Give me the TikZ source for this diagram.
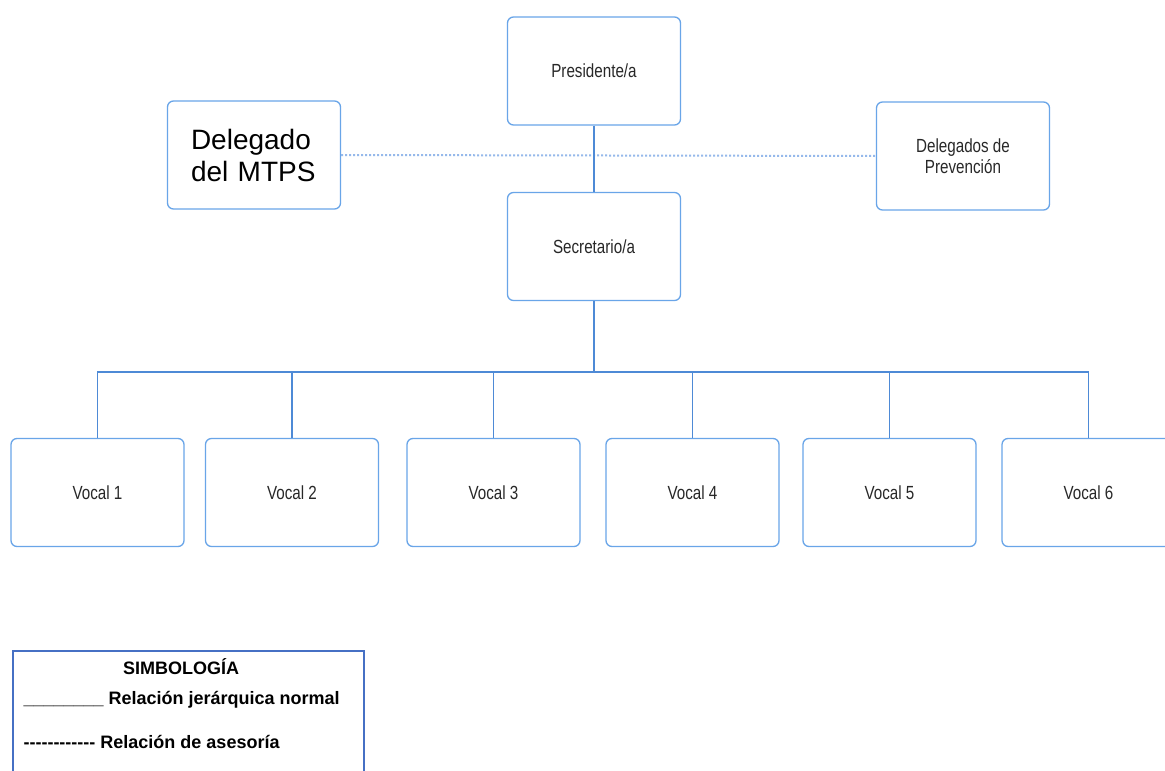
\documentclass[tikz,border=0pt]{standalone}
\usepackage{fontspec}
\setmainfont{Liberation Sans}
\newfontfamily\narrowfont[FakeStretch=0.8]{Liberation Sans}
\usetikzlibrary{positioning}
\definecolor{boxblue}{RGB}{105,165,232}
\definecolor{lineblue}{RGB}{78,138,214}
\definecolor{dotblue}{RGB}{150,185,235}
\definecolor{legblue}{RGB}{70,112,196}
\definecolor{txtgray}{RGB}{40,40,40}

\begin{document}
\begin{tikzpicture}[x=1pt,y=-1pt,
    cargo/.style={draw=boxblue, line width=1.3pt, rounded corners=6pt,
        minimum width=173pt, minimum height=108pt, inner sep=0pt,
        text=txtgray, font=\narrowfont\fontsize{19}{21}\selectfont, align=center},
    jerarquia/.style={draw=lineblue, line width=1.2pt},
    asesoria/.style={draw=dotblue, line width=2pt, dotted}]
    \useasboundingbox (0,0) rectangle (1165,771);
    \fill[white] (0,0) rectangle (1165,771);
    % cargos
    \node [cargo] (pres) at (594,71) {Presidente/a};
    \node [cargo] (sec) at (594,246.5) {Secretario/a};
    \node [cargo, text=black, text width=126pt, align=left, font=\fontsize{28}{32}\selectfont] (mtps) at (254,155) {Delegado\\del MTPS};
    \node [cargo] (prev) at (963,156) {Delegados de\\Prevención};
    \foreach \i/\x in {1/97.5,2/292,3/493.5,4/692.5,5/889.5,6/1088.5} {
        \node [cargo] (v\i) at (\x,492.5) {Vocal \i};
    }
    % relaciones
    \draw [asesoria] (mtps.east) -- (prev.west);
    \draw [jerarquia] (pres) -- (sec);
    \coordinate (bus) at (594,372);
    \draw [jerarquia] (sec) -- (bus);
    \foreach \i in {1,...,6} {
        \draw [jerarquia] (bus) -| (v\i.north);
    }
    % simbologia
    \node [draw=legblue, line width=2pt, minimum width=351pt, minimum height=150pt,
        anchor=north west] (leyenda) at (12,650) {};
    \begin{scope}[font=\bfseries\fontsize{18}{20}\selectfont]
    \node [anchor=base] (simb) at (181,674) {SIMBOLOGÍA};
    \node [anchor=base west] (jer) at (20,704) {\_\_\_\_\_\_\_\_ Relación jerárquica normal};
    \node [anchor=base west] (ases) at (20,748) {-{}-{}-{}-{}-{}-{}-{}-{}-{}-{}-{}- Relación de asesoría};
    \end{scope}
\end{tikzpicture}
\end{document}
